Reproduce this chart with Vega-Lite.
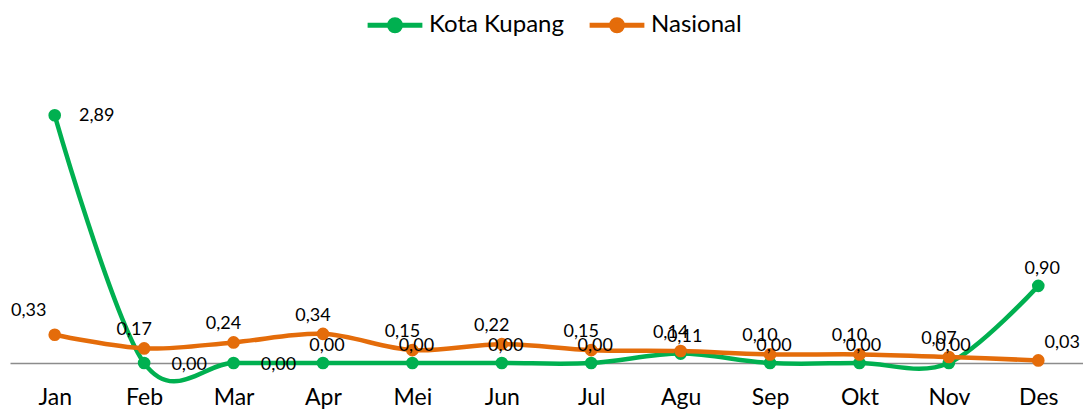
{
  "$schema": "https://vega.github.io/schema/vega-lite/v6.json",
  "autosize": "none",
  "width": 1073,
  "height": 300,
  "padding": {"left": 10, "top": 63, "right": 0, "bottom": 46},
  "background": "white",
  "config": {
    "view": {"stroke": null},
    "font": "Lato",
    "locale": {"number": {"decimal": ",", "thousands": ".", "grouping": [3], "currency": ["", ""]}}
  },
  "data": {"values": [
    {"bulan": "Jan", "seri": "Kota Kupang", "nilai": 2.89},
    {"bulan": "Feb", "seri": "Kota Kupang", "nilai": 0.00},
    {"bulan": "Mar", "seri": "Kota Kupang", "nilai": 0.00},
    {"bulan": "Apr", "seri": "Kota Kupang", "nilai": 0.00},
    {"bulan": "Mei", "seri": "Kota Kupang", "nilai": 0.00},
    {"bulan": "Jun", "seri": "Kota Kupang", "nilai": 0.00},
    {"bulan": "Jul", "seri": "Kota Kupang", "nilai": 0.00},
    {"bulan": "Agu", "seri": "Kota Kupang", "nilai": 0.11},
    {"bulan": "Sep", "seri": "Kota Kupang", "nilai": 0.00},
    {"bulan": "Okt", "seri": "Kota Kupang", "nilai": 0.00},
    {"bulan": "Nov", "seri": "Kota Kupang", "nilai": 0.00},
    {"bulan": "Des", "seri": "Kota Kupang", "nilai": 0.90},
    {"bulan": "Jan", "seri": "Nasional", "nilai": 0.33},
    {"bulan": "Feb", "seri": "Nasional", "nilai": 0.17},
    {"bulan": "Mar", "seri": "Nasional", "nilai": 0.24},
    {"bulan": "Apr", "seri": "Nasional", "nilai": 0.34},
    {"bulan": "Mei", "seri": "Nasional", "nilai": 0.15},
    {"bulan": "Jun", "seri": "Nasional", "nilai": 0.22},
    {"bulan": "Jul", "seri": "Nasional", "nilai": 0.15},
    {"bulan": "Agu", "seri": "Nasional", "nilai": 0.14},
    {"bulan": "Sep", "seri": "Nasional", "nilai": 0.10},
    {"bulan": "Okt", "seri": "Nasional", "nilai": 0.10},
    {"bulan": "Nov", "seri": "Nasional", "nilai": 0.07},
    {"bulan": "Des", "seri": "Nasional", "nilai": 0.03}
  ]},
  "encoding": {
    "x": {
      "field": "bulan", "type": "ordinal", "sort": null,
      "scale": {"type": "point", "padding": 0.5},
      "axis": {"title": null, "labelAngle": 0, "ticks": false, "labelFontSize": 23, "labelColor": "#000000",
               "labelPadding": 23, "domainColor": "#8c8c8c", "domainWidth": 1.5, "labelBaseline": "top"}
    },
    "y": {
      "field": "nilai", "type": "quantitative",
      "scale": {"domain": [0, 3.5], "nice": false, "zero": true},
      "axis": null
    }
  },
  "layer": [
    {
      "mark": {"type": "line", "interpolate": "cardinal", "strokeWidth": 4.5, "clip": false},
      "encoding": {
        "color": {
          "field": "seri", "type": "nominal",
          "scale": {"domain": ["Kota Kupang", "Nasional"], "range": ["#00B050", "#E46C0A"]},
          "legend": {
            "title": null, "orient": "none", "legendX": 355, "legendY": -68, "direction": "horizontal",
            "labelFontSize": 24, "labelColor": "#000000", "columnPadding": 15,
            "symbolType": "M-1,0L1,0M-0.2,0A0.2,0.2,0,1,1,0.2,0A0.2,0.2,0,1,1,-0.2,0",
            "symbolSize": 3000, "symbolStrokeWidth": 5, "labelOffset": 4
          }
        },
        "order": {"field": "seri"}
      }
    },
    {
      "mark": {"type": "point", "filled": true, "size": 160, "opacity": 1, "clip": false},
      "encoding": {
        "color": {"field": "seri", "type": "nominal", "legend": null}
      }
    },
    {
      "transform": [{"filter": "datum.seri == 'Nasional' && datum.bulan != 'Des' && datum.bulan != 'Jan'"}],
      "mark": {"type": "text", "fontSize": 18, "dx": -10, "dy": -18, "color": "#000000"},
      "encoding": {"text": {"field": "nilai", "type": "quantitative", "format": ".2f"}}
    },
    {
      "transform": [{"filter": "datum.seri == 'Nasional' && datum.bulan == 'Jan'"}],
      "mark": {"type": "text", "fontSize": 18, "dx": -26, "dy": -24, "color": "#000000"},
      "encoding": {"text": {"field": "nilai", "type": "quantitative", "format": ".2f"}}
    },
    {
      "transform": [{"filter": "datum.seri == 'Nasional' && datum.bulan == 'Des'"}],
      "mark": {"type": "text", "fontSize": 18, "dx": 24, "dy": -17, "color": "#000000"},
      "encoding": {"text": {"field": "nilai", "type": "quantitative", "format": ".2f"}}
    },
    {
      "transform": [{"filter": "datum.seri == 'Kota Kupang' && datum.bulan == 'Jan'"}],
      "mark": {"type": "text", "fontSize": 18, "dx": 42, "dy": 1, "color": "#000000"},
      "encoding": {"text": {"field": "nilai", "type": "quantitative", "format": ".2f"}}
    },
    {
      "transform": [{"filter": "datum.seri == 'Kota Kupang' && (datum.bulan == 'Feb' || datum.bulan == 'Mar')"}],
      "mark": {"type": "text", "fontSize": 18, "dx": 45, "dy": 2, "color": "#000000"},
      "encoding": {"text": {"field": "nilai", "type": "quantitative", "format": ".2f"}}
    },
    {
      "transform": [{"filter": "datum.seri == 'Kota Kupang' && datum.bulan != 'Jan' && datum.bulan != 'Feb' && datum.bulan != 'Mar'"}],
      "mark": {"type": "text", "fontSize": 18, "dx": 4, "dy": -17, "color": "#000000"},
      "encoding": {"text": {"field": "nilai", "type": "quantitative", "format": ".2f"}}
    }
  ]
}
